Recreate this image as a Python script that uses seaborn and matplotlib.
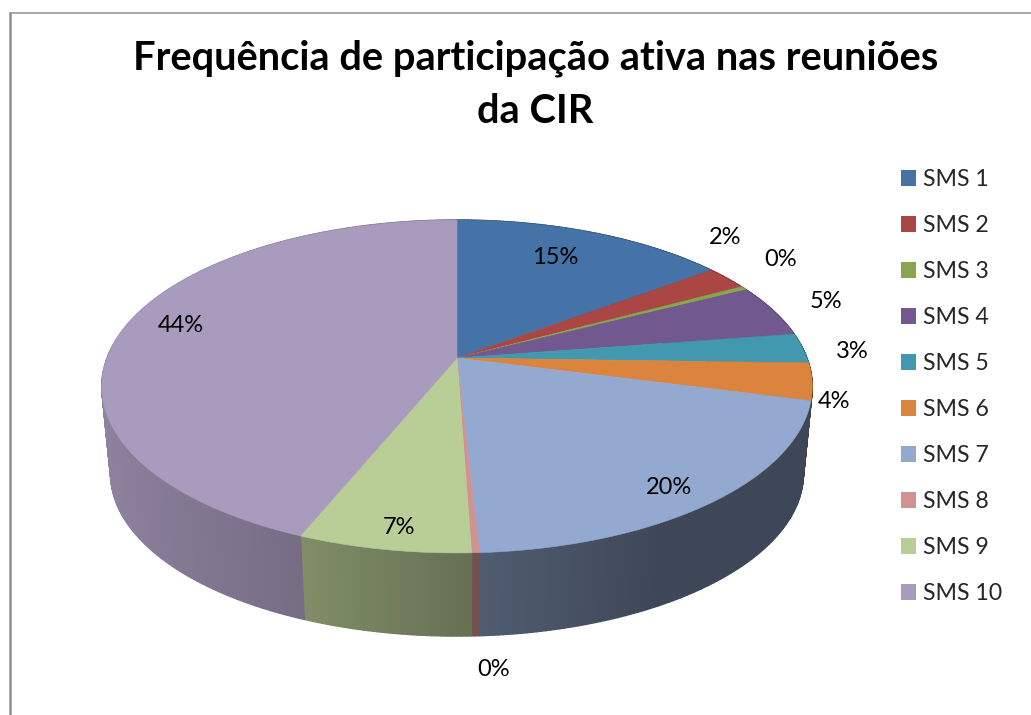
import numpy as np
import matplotlib
matplotlib.use('Agg')
import matplotlib.pyplot as plt
from matplotlib.patches import Patch
import seaborn as sns

# dados
title = 'Frequência de participação ativa nas reuniões\nda CIR'
names = ['SMS 1', 'SMS 2', 'SMS 3', 'SMS 4', 'SMS 5', 'SMS 6', 'SMS 7', 'SMS 8', 'SMS 9', 'SMS 10']
values = [14.8, 2.3, 0.4, 5.1, 2.9, 3.6, 20.1, 0.3, 6.7, 43.9]
colors = ['#4573A7', '#AA4643', '#89A54E', '#71588F', '#4198AF',
          '#DB843D', '#93A9CF', '#D19392', '#B9CD96', '#A99BBD']

sns.set_theme(style='white')
plt.rcParams['font.family'] = ['Lato', 'DejaVu Sans']
palette = sns.color_palette(colors)

fig = plt.figure(figsize=(10.31, 7.15), dpi=100)
ax = fig.add_axes([0, 0, 1, 1])

# angulos das fatias vem do proprio pie
wedges, _ = ax.pie(values, startangle=90, counterclock=False)
angles = [(w.theta1, w.theta2) for w in wedges]
for w in wedges:
    w.remove()
ax.set_aspect('auto')
ax.set_xlim(0, 1031)
ax.set_ylim(715, 0)
ax.axis('off')

# perspectiva do disco em pixels
cx, cy, rx, ry, k = 457, 358, 350, 161.6, 0.171
shrink, depth = 0.975, 88


def top_ring(theta):
    t = np.radians(theta)
    s = 1 / (1 + k * np.sin(t))
    return cx + rx * np.cos(t) * s, cy - ry * np.sin(t) * s


def bottom_ring(theta):
    x, y = top_ring(theta)
    return cx + shrink * (x - cx), cy + shrink * (y - cy) + depth


# parede lateral, escurece para a direita
for col, (t1, t2) in zip(palette, angles):
    steps = np.linspace(t1, t2, max(3, int((t2 - t1) * 1.5)))
    for a, b in zip(steps[:-1], steps[1:]):
        xa, ya = top_ring(a)
        xb, yb = top_ring(b)
        xc, yc = bottom_ring(b)
        xd, yd = bottom_ring(a)
        u = np.cos(np.radians((a + b) / 2))
        f = np.interp(u, [-1, -0.45, 0, 0.5, 1], [0.85, 0.72, 0.56, 0.42, 0.42])
        shade = tuple(c * f for c in col)
        ax.fill([xa, xb, xc, xd], [ya, yb, yc, yd], color=shade, lw=1, zorder=2)

# tampa
for col, (t1, t2) in zip(palette, angles):
    steps = np.linspace(t1, t2, max(3, int((t2 - t1) * 2)))
    x, y = top_ring(steps)
    ax.fill(np.r_[cx, x], np.r_[cy, y], color=col, lw=0.4, zorder=3)

label_pos = [(555, 258), (725, 238), (781, 260), (826, 302), (852, 351),
             (834, 402), (669, 488), (494, 669), (399, 527), (181, 325)]
for v, (lx, ly) in zip(values, label_pos):
    ax.text(lx, ly, '%.0f%%' % v, fontsize=17, color='black', ha='center', va='center', zorder=4)

ax.text(535.5, 85, title, fontsize=28.7, fontweight='bold', color='black',
        ha='center', va='center', linespacing=1.52)

handles = [Patch(facecolor=c, edgecolor='none', label=n) for c, n in zip(palette, names)]
ax.legend(handles=handles, loc='upper left', bbox_to_anchor=(901 / 1031, 1 - 169 / 715),
          frameon=False, fontsize=16.7, handlelength=0.66, handleheight=0.66,
          handletextpad=0.27, labelspacing=1.08, borderaxespad=0, borderpad=0)

# moldura so em cima e a esquerda, a imagem foi cortada
ax.plot([9.5, 1031], [13, 13], color='#8f8f8f', lw=1.1, zorder=1)
ax.plot([9.5, 9.5], [13, 715], color='#8f8f8f', lw=1.8, zorder=1)

fig.savefig('out.png', dpi=100)
